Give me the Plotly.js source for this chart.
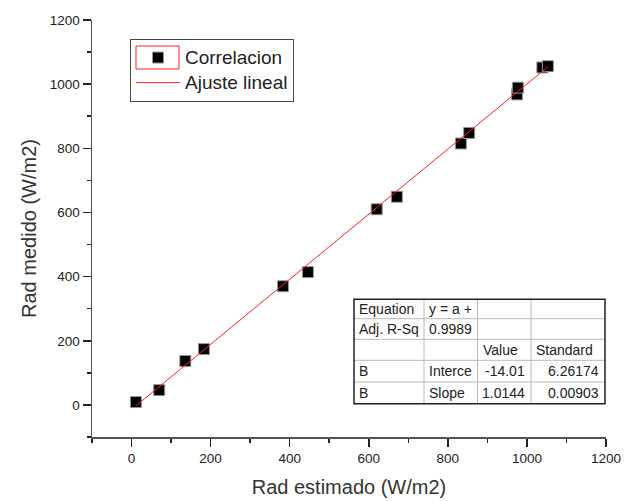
<!DOCTYPE html>
<html>
<head>
<meta charset="utf-8">
<script src="https://cdn.plot.ly/plotly-3.0.1.min.js"></script>
<style>html,body{margin:0;padding:0;background:#fff;}#chart{width:630px;height:501px;}</style>
</head>
<body>
<div id="chart"></div>
<script>
// ---- data ----
const radEstimado = [11, 70, 136, 183, 383, 446, 620, 671, 833, 854, 975, 977, 1039, 1053];
const radMedido   = [9, 46, 137, 174, 370, 414, 610, 649, 815, 848, 968, 989, 1052, 1056];
const fitIntercept = -14.01;
const fitSlope = 1.0144;
const seriesNames = ['Correlacion', 'Ajuste lineal'];
const tableCol1 = ['Equation', 'Adj. R-Sq', '', 'B', 'B'];
const tableCol2 = ['y = a +', '0.9989', '', 'Interce', 'Slope'];
const tableCol3 = ['', '', 'Value', '-14.01', '1.0144'];
const tableCol4 = ['', '', 'Standard', '6.26174', '0.00903'];

// fit line across the data range
const xMin = Math.min(...radEstimado), xMax = Math.max(...radEstimado);
const fitX = [xMin, xMax];
const fitY = fitX.map(v => fitIntercept + fitSlope * v);

const FONT = 'Liberation Sans, Arial, sans-serif';
const L = 92, R = 24, T = 20, B = 64, W = 630, H = 501;
const PW = W - L - R, PH = H - T - B;
const P = px => (px - L) / PW;
const Q = py => (H - B - py) / PH;
const big = s => '<span style="font-size:19px">' + s + '</span>';

const traces = [
  {
    x: radEstimado, y: radMedido, type: 'scatter', mode: 'markers', name: big(seriesNames[0]),
    marker: {symbol: 'square', size: 11, color: '#000', line: {color: '#999', width: 1}}
  },
  {
    x: fitX, y: fitY, type: 'scatter', mode: 'lines', name: big(seriesNames[1]),
    line: {color: '#ff2020', width: 1}
  }
];

// table
const rowEdges = [299.3, 318.7, 339.3, 360.3, 382, 403.7];
const colEdges = [354, 424, 477.5, 531, 605];
const shapes = [];
const annotations = [];
for (let i = 1; i < rowEdges.length - 1; i++) {
  shapes.push({type: 'line', xref: 'paper', yref: 'paper', x0: P(colEdges[0]), x1: P(colEdges[4]), y0: Q(rowEdges[i]), y1: Q(rowEdges[i]), line: {color: '#b8b8b8', width: 1}});
}
for (let j = 1; j < colEdges.length - 1; j++) {
  shapes.push({type: 'line', xref: 'paper', yref: 'paper', x0: P(colEdges[j]), x1: P(colEdges[j]), y0: Q(rowEdges[0]), y1: Q(rowEdges[5]), line: {color: '#b8b8b8', width: 1}});
}
shapes.push({type: 'rect', xref: 'paper', yref: 'paper', x0: P(colEdges[0]), x1: P(colEdges[4]), y0: Q(rowEdges[5]), y1: Q(rowEdges[0]), line: {color: '#222', width: 1.5}});
// red frame around legend marker sample
shapes.push({type: 'rect', xref: 'paper', yref: 'paper', x0: P(136), x1: P(179), y0: Q(69), y1: Q(46), line: {color: '#ff2020', width: 1}});

const cols = [tableCol1, tableCol2, tableCol3, tableCol4];
cols.forEach((col, j) => {
  col.forEach((txt, i) => {
    if (!txt) return;
    const numeric = /^-?\d/.test(txt) && j >= 2;
    annotations.push({
      xref: 'paper', yref: 'paper', showarrow: false,
      x: numeric ? P(colEdges[j + 1] - 4) : P(colEdges[j] + 3),
      xanchor: numeric ? 'right' : 'left',
      y: Q((rowEdges[i] + rowEdges[i + 1]) / 2), yanchor: 'middle',
      text: txt, font: {family: FONT, size: 14, color: '#222'}
    });
  });
});

const axisCommon = {
  range: [-100, 1200], dtick: 200, tick0: 0, showgrid: false, zeroline: false,
  showline: true, linecolor: '#555', linewidth: 1.5,
  ticks: 'outside', ticklen: 8, tickwidth: 1.5, tickcolor: '#222',
  minor: {dtick: 100, tick0: 0, ticks: 'outside', ticklen: 4, tickwidth: 1.5, tickcolor: '#222'},
  tickfont: {family: FONT, size: 13.5, color: '#222'}
};

const layout = {
  width: W, height: H,
  margin: {l: L, r: R, t: T, b: B, pad: 0},
  paper_bgcolor: '#fff', plot_bgcolor: '#fff',
  xaxis: Object.assign({}, axisCommon, {title: {text: 'Rad estimado (W/m2)', font: {family: FONT, size: 20, color: '#333'}, standoff: 15}}),
  yaxis: Object.assign({}, axisCommon, {title: {text: 'Rad medido (W/m2)', font: {family: FONT, size: 20, color: '#333'}, standoff: 8}}),
  showlegend: true,
  legend: {
    x: P(130), y: Q(39), xanchor: 'left', yanchor: 'top',
    bgcolor: 'rgba(0,0,0,0)', bordercolor: '#444', borderwidth: 1,
    font: {family: FONT, size: 17, color: '#222'},
    itemwidth: 44, tracegroupgap: 0
  },
  shapes: shapes,
  annotations: annotations
};

Plotly.newPlot('chart', traces, layout, {displayModeBar: false, staticPlot: true});
</script>
</body>
</html>
